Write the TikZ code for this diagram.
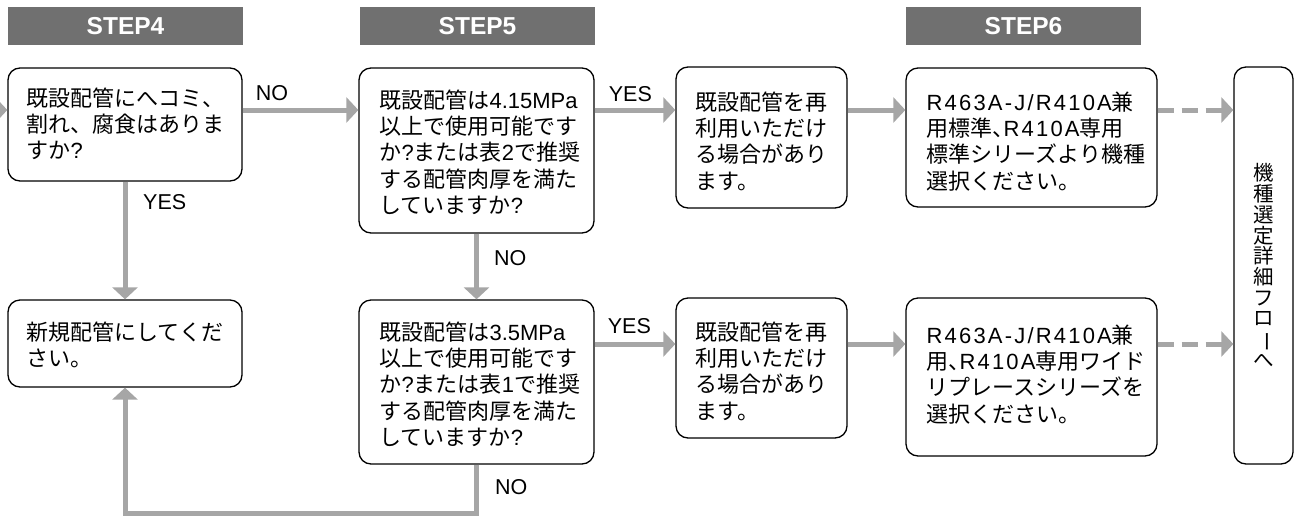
\documentclass[tikz,border=0pt]{standalone}
\usepackage{fontspec}
\usepackage{graphicx}
\setmainfont{Noto Sans CJK JP}
\newfontfamily\lat{Liberation Sans}
\newfontfamily\latw[LetterSpace=10]{Liberation Sans}
\newcommand{\hcomma}{\makebox[0.5em][l]{、}}
\usetikzlibrary{arrows.meta,calc}
\definecolor{arrgray}{HTML}{A6A6A6}
\definecolor{hdrgray}{HTML}{707070}
\tikzset{
  box/.style={draw=black, line width=1.3pt, rounded corners=12pt, fill=white, inner sep=0pt},
  hdr/.style={fill=hdrgray, inner sep=0pt, minimum width=235pt, minimum height=38pt, text=white,
    font=\lat\bfseries\fontsize{24.5}{28}\selectfont},
  txt/.style={anchor=north west, inner sep=0pt, align=left, font=\fontsize{22}{26.3}\selectfont},
  vtxt/.style={anchor=center, inner sep=0pt, align=center, font=\fontsize{20.5}{20.7}\selectfont},
  lbl/.style={anchor=base west, inner sep=0pt, font=\lat\fontsize{21.5}{26}\selectfont},
  arr/.style={draw=arrgray, line width=5pt, -{Triangle[length=12pt,width=25pt]}},
  darr/.style={arr, dash pattern=on 16pt off 8pt}
}
\begin{document}
\begin{tikzpicture}[x=1pt,y=-1pt]
\useasboundingbox (0,0) rectangle (1295,520);
% rows for horizontal connectors
\coordinate (r1) at (0,110);
\coordinate (r2) at (0,344);
\coordinate (lin) at (-14,110);
% headers
\node[hdr] (h4) at (125.5,26) {STEP4};
\node[hdr] (h5) at (477.5,26) {STEP5};
\node[hdr] (h6) at (1023.5,26) {STEP6};
% boxes
\node[box, minimum width=234pt, minimum height=113pt] (A) at (125,124.5) {};
\node[box, minimum width=235pt, minimum height=165pt] (B) at (476.5,150.5) {};
\node[box, minimum width=171pt, minimum height=141pt] (C) at (761.5,137.5) {};
\node[box, minimum width=251pt, minimum height=139pt] (D) at (1031.5,137.5) {};
\node[box, minimum width=59pt, minimum height=397pt] (E) at (1263.5,265.5) {};
\node[box, minimum width=234pt, minimum height=87pt] (F) at (125,343.5) {};
\node[box, minimum width=235pt, minimum height=164pt] (G) at (476.5,382) {};
\node[box, minimum width=171pt, minimum height=140pt] (H) at (761.5,368) {};
\node[box, minimum width=251pt, minimum height=158pt] (I) at (1031.5,377) {};
% texts
\node[txt] (At) at ($(A.north west)+(19,20)$) {既設配管にへコミ、\\割れ、腐食はありま\\すか{\lat ?}};
\node[txt] (Bt) at ($(B.north west)+(21,22)$) {既設配管は{\lat 4.15MPa}\\以上で使用可能です\\か{\lat ?}または表{\lat 2}で推奨\\する配管肉厚を満た\\していますか{\lat ?}};
\node[txt] (Ct) at ($(C.north west)+(20,25)$) {既設配管を再\\利用いただけ\\る場合があり\\ます。};
\node[txt] (Dt) at ($(D.north west)+(21,24)$) {{\latw R463A-J/R410A}兼\\用標準\hcomma{\latw R410A}専用\\標準シリーズより機種\\選択ください。};
\node[vtxt] (Et) at (E) {機\\種\\選\\定\\詳\\細\\フ\\ロ\\\rotatebox[origin=c]{-90}{ー}\\へ};
\node[txt] (Ft) at ($(F.north west)+(19,22)$) {新規配管にしてくだ\\さい。};
\node[txt] (Gt) at ($(G.north west)+(21,22)$) {既設配管は{\lat 3.5MPa}\\以上で使用可能です\\か{\lat ?}または表{\lat 1}で推奨\\する配管肉厚を満た\\していますか{\lat ?}};
\node[txt] (Ht) at ($(H.north west)+(20,24)$) {既設配管を再\\利用いただけ\\る場合があり\\ます。};
\node[txt] (It) at ($(I.north west)+(21,27)$) {{\latw R463A-J/R410A}兼\\用\hcomma{\latw R410A}専用ワイド\\リプレースシリーズを\\選択ください。};
% connectors
\draw[arr] (lin) -- (A.west |- r1);
\draw[arr] (A.east |- r1) -- (B.west |- r1);
\draw[arr] (B.east |- r1) -- (C.west |- r1);
\draw[arr] (C.east |- r1) -- (D.west |- r1);
\draw[darr] (D.east |- r1) -- (E.west |- r1);
\draw[arr] (A.south) -- (F.north);
\draw[arr] (B.south) -- (G.north);
\draw[arr] (G.east |- r2) -- (H.west |- r2);
\draw[arr] (H.east |- r2) -- (I.west |- r2);
\draw[darr] (I.east |- r2) -- (E.west |- r2);
\draw[arr] (G.south) -- ++(0,49) -| (F.south);
% labels
\node[lbl] (l1) at ($(A.east |- r1)+(13,-10)$) {NO};
\node[lbl] (l2) at ($(B.east |- r1)+(14,-9)$) {YES};
\node[lbl] (l3) at ($(A.south)+(18,28)$) {YES};
\node[lbl] (l4) at ($(B.south)+(17.5,32)$) {NO};
\node[lbl] (l5) at ($(G.east |- r2)+(13,-11)$) {YES};
\node[lbl] (l6) at ($(G.south)+(18.5,30)$) {NO};
\end{tikzpicture}
\end{document}
